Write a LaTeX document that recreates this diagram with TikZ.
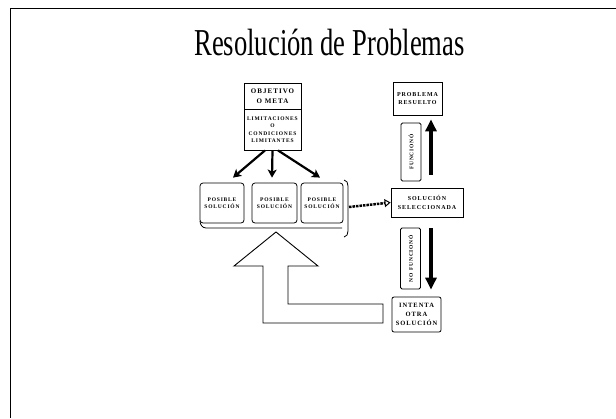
\documentclass[tikz,border=0pt]{standalone}
\usepackage{graphicx}
\usepackage{fontspec}
\setmainfont{Liberation Serif}
\newfontfamily\boxfont[LetterSpace=15]{Liberation Serif}
\usetikzlibrary{arrows.meta,positioning}
\newcommand{\bx}[2]{\fontsize{#1}{#2}\selectfont\boxfont\bfseries}

\begin{document}
\begin{tikzpicture}[x=1pt,y=-1pt,
  every node/.style={align=center,inner sep=0pt},
  cbox/.style={draw=black,line width=0.8pt,fill=white},
  solbox/.style={cbox,rounded corners=3pt,minimum height=40pt},
  vlabel/.style={cbox,rounded corners=1.5pt,minimum height=20pt,rotate=90,font={\bx{5.5}{6}}},
  arr/.style={-{Stealth[length=8pt,width=9pt,inset=2pt]},line width=2.2pt},
  bigarr/.style={-{Triangle[length=12pt,width=11pt]},line width=4.5pt},
  dots/.style={-{Triangle[open,length=6pt,width=8pt,line width=1pt]},line width=2.5pt,densely dotted}
]
\useasboundingbox (0,0) rectangle (616,418);
\fill[white] (0,0) rectangle (616,418);
% page frame
\draw[line width=1pt] (616,8) -- (10,8) -- (10,418);
\node[anchor=base,font=\fontsize{38}{40}\selectfont] (title) at (329.5,55)
  {\scalebox{0.7}[1]{Resolución de Problemas}};
% goal and constraints
\node[cbox,minimum width=57pt,minimum height=26pt,font={\bx{7}{10}}] (meta) at (272.5,96)
  {OBJETIVO\\O META};
\node[cbox,minimum width=57pt,minimum height=41pt,font={\bx{5.5}{7.5}}] (lim) at (272.5,129.5)
  {LIMITACIONES\\O\\CONDICIONES\\LIMITANTES};
% candidate solutions
\node[solbox,minimum width=44pt,font={\bx{5.5}{7.5}}] (sol1) at (222,203) {POSIBLE\\SOLUCIÓN};
\node[solbox,minimum width=45pt,font={\bx{5.5}{7.5}}] (sol2) at (274.5,203) {POSIBLE\\SOLUCIÓN};
\node[solbox,minimum width=42pt,font={\bx{5.5}{7.5}}] (sol3) at (322,203) {POSIBLE\\SOLUCIÓN};
\draw[line width=0.8pt] (200,221) to[out=-90,in=180] (206,228) -- (342,228);
\draw[line width=0.8pt] (344,180) to[out=0,in=90] (348,186) -- (348,231)
  to[out=-90,in=0] (344,237);
\coordinate (brk) at (349,207);
% right column
\node[cbox,minimum width=72pt,minimum height=29pt,font={\bx{6}{8.5}}] (selec) at (427,202.5)
  {SOLUCIÓN\\SELECCIONADA};
\node[cbox,minimum width=49pt,minimum height=33pt,font={\bx{6}{8.5}}] (resuelto) at (417.5,98.5)
  {PROBLEMA\\RESUELTO};
\node[vlabel,minimum width=58pt] (funciona) at (411,152) {FUNCIONÓ};
\node[vlabel,minimum width=61pt] (nofunciona) at (410.5,258.5) {NO FUNCIONÓ};
\node[cbox,rounded corners=2pt,minimum width=49pt,minimum height=35pt,font={\bx{6.5}{9}}] (intenta)
  at (416.5,314.5) {INTENTA\\OTRA\\SOLUCIÓN};
% connectors
\draw[arr] ([xshift=-7.5pt]lim.south) -- ([xshift=11pt,yshift=5pt]sol1.north);
\draw[arr] (lim.south) -- ([xshift=-2.5pt,yshift=5pt]sol2.north);
\draw[arr] ([xshift=5.5pt]lim.south) -- ([xshift=-2pt,yshift=5pt]sol3.north);
\draw[dots] (brk) -- (selec.west);
\draw[bigarr] ([xshift=4pt,yshift=13pt]selec.north) -- ([xshift=13.5pt,yshift=-4pt]resuelto.south);
\draw[bigarr] ([xshift=4pt,yshift=-11pt]selec.south) -- ([xshift=14.5pt,yshift=7pt]intenta.north);
% hollow return arrow
\draw[line width=0.9pt] (383,304) -- (288,304) -- (288,266) -- (318,266) -- (276,232)
  -- (234,266) -- (263,266) -- (263,323) -- (383,323) -- cycle;
\end{tikzpicture}
\end{document}
